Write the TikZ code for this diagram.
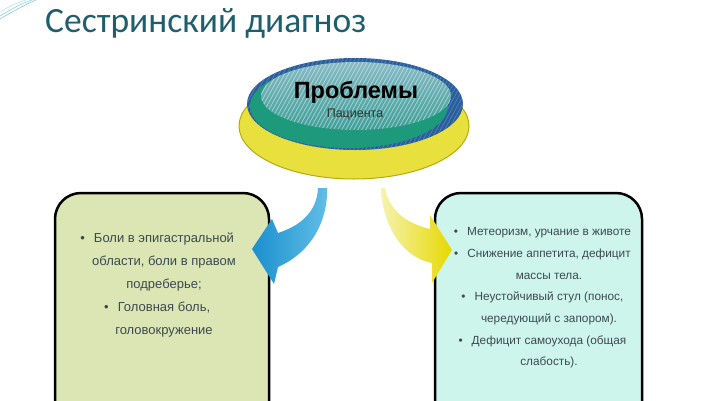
\documentclass[tikz,border=0pt]{standalone}
\usepackage{fontspec}
\setmainfont{Liberation Sans}
\newfontfamily\titlefont{Carlito}
\usetikzlibrary{shadings}
\definecolor{titlec}{HTML}{1F5E6C}
\definecolor{txtc}{HTML}{3C4A50}
\definecolor{leftfill}{HTML}{DCE5B4}
\definecolor{rightfill}{HTML}{CDF5EC}
\definecolor{yel}{HTML}{E8E03C}
\definecolor{yeldark}{HTML}{B5AA10}
\definecolor{rimblue}{HTML}{2E5C9A}
\definecolor{grn}{HTML}{1C9A7B}
\definecolor{innertop}{HTML}{86BAC4}
\definecolor{innerbot}{HTML}{3E9F98}
\definecolor{bluedark}{HTML}{1A90CE}
\definecolor{bluelight}{HTML}{62BEE6}
\definecolor{yellight}{HTML}{F6F3AE}
\definecolor{yelstrong}{HTML}{E6D800}
\tikzset{
  infobox/.style={draw=black, line width=2.5pt, rounded corners=26pt},
  boxtext/.style={text=txtc, align=center, anchor=north},
  hatch/.style={line width=0.8pt},
}
\newcommand{\bul}{\llap{\textbullet\hspace{9pt}}}
\begin{document}
\begin{tikzpicture}[x=1pt,y=-1pt]
\useasboundingbox (0,0) rectangle (715,400);
\clip (0,0) rectangle (715,400);
\fill[white] (0,0) rectangle (715,400);
% top-left swoosh
\draw[cyan!50, line width=0.6pt] (0,16) .. controls (10,10) and (20,4) .. (32,0);
\draw[cyan!35, line width=0.5pt] (0,12) .. controls (8,7) and (16,3) .. (26,0);
\draw[teal!50, line width=0.5pt] (0,19) .. controls (12,12) and (24,5) .. (36,0);
% title
\node[anchor=base west, inner sep=0pt, text=titlec, font=\titlefont\fontsize{35.5}{40}\selectfont] (title) at (45,32) {Сестринский диагноз};
% boxes
\draw[infobox, fill=leftfill] (55,420) -- (55,193) -- (269,193) -- (269,420);
\draw[infobox, fill=rightfill] (435,420) -- (435,193) -- (642,193) -- (642,420);
% ellipse group
\fill[yel] (354,126) ellipse [x radius=115pt, y radius=53pt];
\draw[yeldark, line width=1pt] (354,126) ellipse [x radius=115pt, y radius=53pt];
\fill[rimblue] (355,104) ellipse [x radius=108pt, y radius=46pt];
\begin{scope}
\clip (355,104) ellipse [x radius=108pt, y radius=46pt];
\foreach \k in {160,164,...,520} \draw[hatch, cyan!60!white, opacity=0.35] (\k,160) -- (\k+60,50);
\end{scope}
\fill[grn] (349,106) ellipse [x radius=99pt, y radius=42pt];
\shade[top color=innertop, bottom color=innerbot] (356,96) ellipse [x radius=95pt, y radius=34pt];
\begin{scope}
\clip (356,96) ellipse [x radius=95pt, y radius=34pt];
\foreach \k in {180,184,...,500} \draw[hatch, white, opacity=0.45] (\k,140) -- (\k+50,50);
\end{scope}
\node[inner sep=0pt, anchor=base, font=\bfseries\fontsize{23.5}{26}\selectfont] (prob) at (356,98) {Проблемы};
\node[inner sep=0pt, anchor=base, text=black!80, font=\fontsize{12.5}{14}\selectfont] (pac) at (355,117) {Пациента};
% blue arrow
\shade[left color=bluedark, right color=bluelight]
  (318,188) -- (327,188) .. controls (328,220) and (312,252) .. (278,267)
  -- (274,284) -- (252,249) -- (272,219) -- (278,233)
  .. controls (300,226) and (317,212) .. (318,188) -- cycle;
% yellow arrow
\shade[left color=yellight, right color=yelstrong]
  (381,188) -- (385,188) .. controls (388,205) and (400,222) .. (430,229)
  -- (430,215) -- (452,250) -- (432,283) -- (432,263)
  .. controls (405,258) and (383,230) .. (381,188) -- cycle;
% texts
\node[boxtext, font=\fontsize{13}{23}\selectfont] (lt) at (164,229) {\bul Боли в эпигастральной\\области, боли в правом\\подреберье;\\\bul Головная боль,\\головокружение};
\node[boxtext, font=\fontsize{11.8}{21.7}\selectfont] (rt) at (549,224) {\bul Метеоризм, урчание в животе\\\bul Снижение аппетита, дефицит\\массы тела.\\\bul Неустойчивый стул (понос,\\чередующий с запором).\\\bul Дефицит самоухода (общая\\слабость).};
\end{tikzpicture}
\end{document}
